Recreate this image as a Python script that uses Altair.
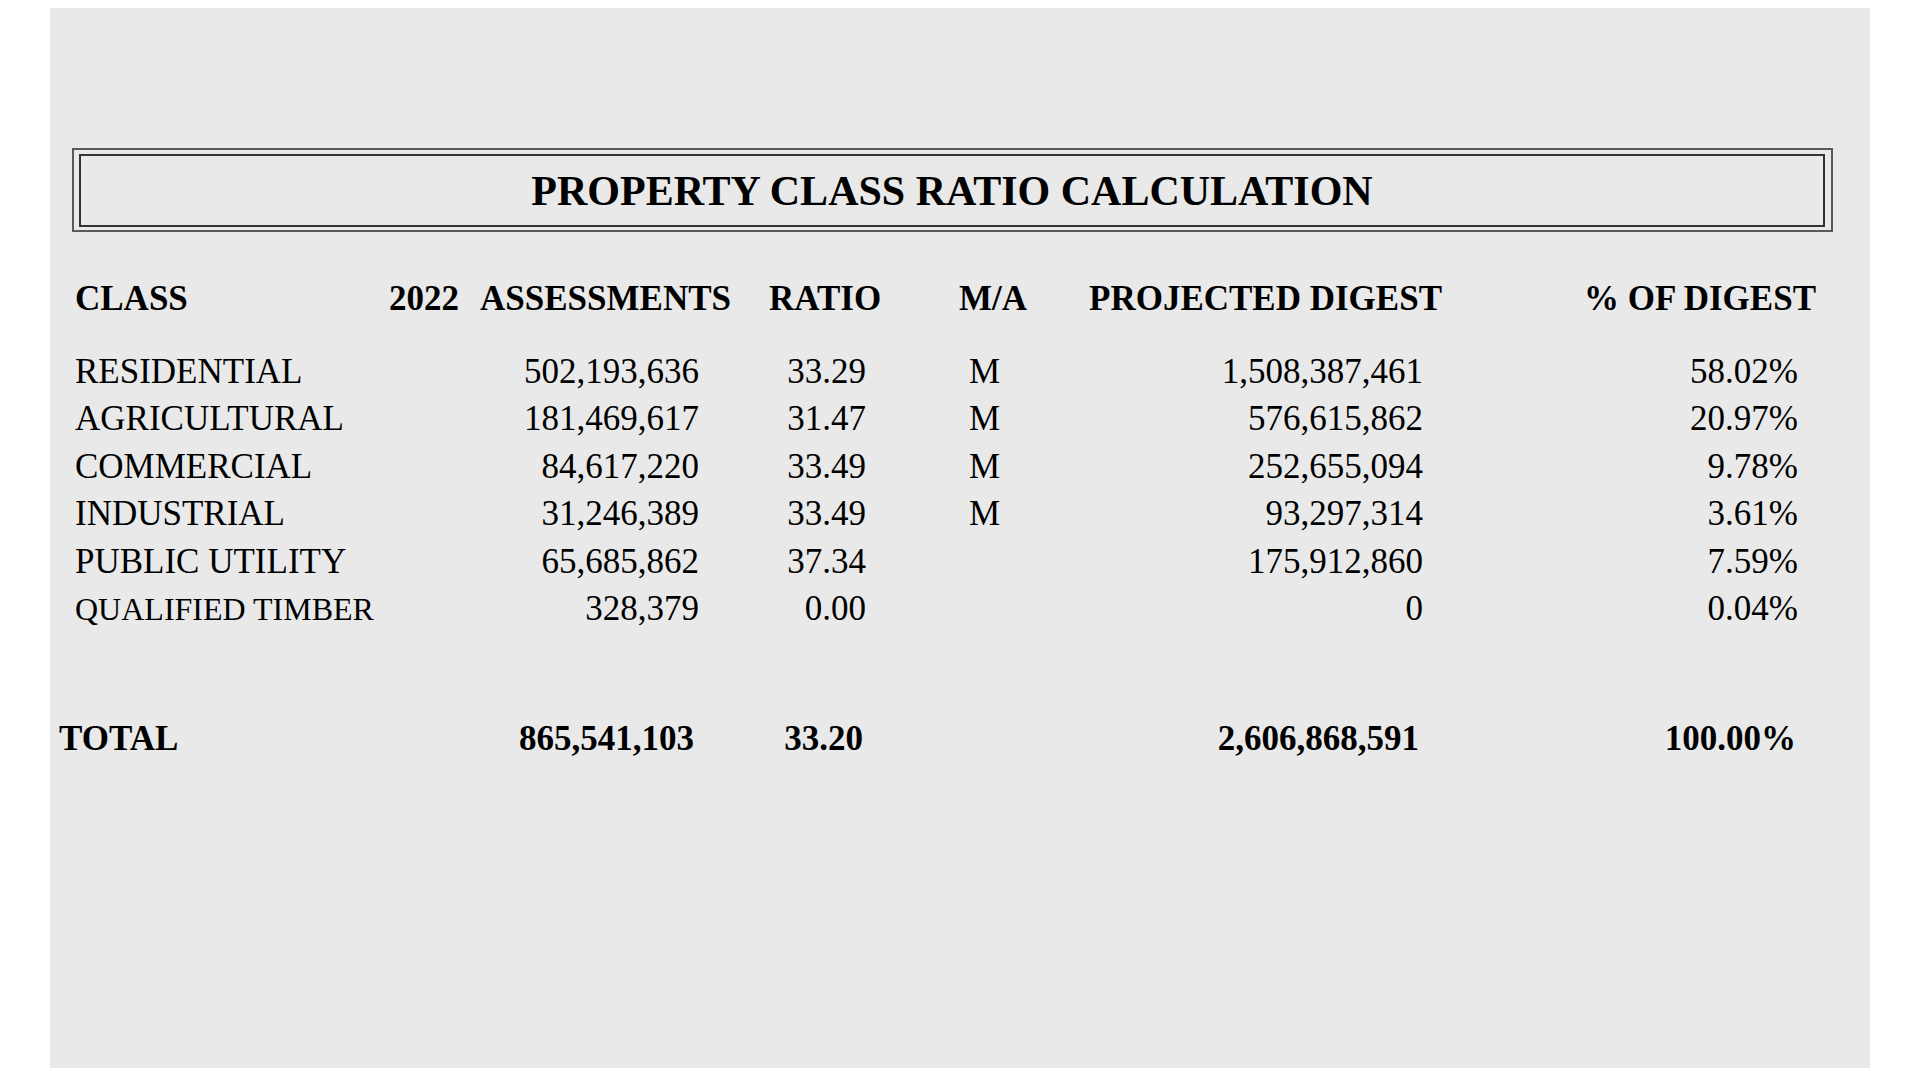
import altair as alt
import pandas as pd

# ---- data ----
classes = ["RESIDENTIAL", "AGRICULTURAL", "COMMERCIAL", "INDUSTRIAL",
           "PUBLIC UTILITY", "QUALIFIED TIMBER"]
assessments = [502193636, 181469617, 84617220, 31246389, 65685862, 328379]
ratios = [33.29, 31.47, 33.49, 33.49, 37.34, 0.00]
ma_flags = ["M", "M", "M", "M", "", ""]
projected = [1508387461, 576615862, 252655094, 93297314, 175912860, 0]
pct_of_digest = [0.5802, 0.2097, 0.0978, 0.0361, 0.0759, 0.0004]

total_label = "TOTAL"
total_assessments = 865541103
total_ratio = 33.20
total_projected = 2606868591
total_pct = 1.0

title_text = "PROPERTY CLASS RATIO CALCULATION"
headers = ["CLASS", "2022", "ASSESSMENTS", "RATIO", "M/A",
           "PROJECTED DIGEST", "% OF DIGEST"]

df = pd.DataFrame({
    "cls": classes, "assess": assessments, "ratio": ratios,
    "ma": ma_flags, "proj": projected, "pct": pct_of_digest,
})
total_df = pd.DataFrame([{
    "cls": total_label, "assess": total_assessments, "ratio": total_ratio,
    "proj": total_projected, "pct": total_pct,
}])

# ---- layout / style ----
W, H = 1904, 1060
FONT = "Liberation Serif"
INK = "#000000"
yscale = alt.Scale(type="point", domain=classes, range=[375, 612], padding=0)

def one():
    return alt.Chart(alt.Data(values=[{}]))

layers = []
# page panel
layers.append(one().mark_rect(fill="#e9e9e9").encode(
    x=alt.value(42), x2=alt.value(1862), y=alt.value(0), y2=alt.value(H)))
# double box around the title
layers.append(one().mark_rect(fill="transparent", stroke="#5a5a5a", strokeWidth=2).encode(
    x=alt.value(65), x2=alt.value(1824), y=alt.value(141), y2=alt.value(223)))
layers.append(one().mark_rect(fill="transparent", stroke="#333333", strokeWidth=2).encode(
    x=alt.value(72), x2=alt.value(1816), y=alt.value(147), y2=alt.value(218)))

# title
layers.append(alt.Chart(pd.DataFrame({"t": [title_text]})).mark_text(
    font=FONT, fontSize=42, fontWeight="bold", color=INK, align="center",
    baseline="alphabetic").encode(
    text="t:N", x=alt.value(944), y=alt.value(197)))

# headers
header_pos = {
    "CLASS": (67, "left"), "2022": (381, "left"), "ASSESSMENTS": (723, "right"),
    "RATIO": (761, "left"), "M/A": (951, "left"),
    "PROJECTED DIGEST": (1081, "left"), "% OF DIGEST": (1808, "right"),
}
for h in headers:
    px, al = header_pos[h]
    layers.append(alt.Chart(pd.DataFrame({"h": [h]})).mark_text(
        font=FONT, fontSize=35, fontWeight="bold", color=INK, align=al,
        baseline="alphabetic").encode(
        text="h:N", x=alt.value(px), y=alt.value(302)))

base = alt.Chart(df)
ycode = alt.Y("cls:N", scale=yscale, axis=None)

def body(field, fmt, px, align, size=35):
    txt = alt.Text(field, format=fmt) if fmt else alt.Text(field)
    return base.mark_text(font=FONT, fontSize=size, color=INK, align=align,
                          baseline="alphabetic").encode(
        text=txt, x=alt.value(px), y=ycode)

layers.append(base.mark_text(font=FONT, color=INK, align="left",
                             baseline="alphabetic").encode(
    text="cls:N", x=alt.value(67), y=ycode,
    size=alt.condition(alt.datum.cls == "QUALIFIED TIMBER", alt.value(32), alt.value(35))))
layers.append(body("assess:Q", ",d", 691, "right"))
layers.append(body("ratio:Q", ".2f", 858, "right"))
layers.append(body("ma:N", None, 961, "left"))
layers.append(body("proj:Q", ",d", 1415, "right"))
layers.append(body("pct:Q", ".2%", 1790, "right"))

# total row
tb = alt.Chart(total_df)
def tot(field, fmt, px, align):
    txt = alt.Text(field, format=fmt) if fmt else alt.Text(field)
    return tb.mark_text(font=FONT, fontSize=35, fontWeight="bold", color=INK,
                        align=align, baseline="alphabetic").encode(
        text=txt, x=alt.value(px), y=alt.value(742))

layers.append(tot("cls:N", None, 51, "left"))
layers.append(tot("assess:Q", ",d", 686, "right"))
layers.append(tot("ratio:Q", ".2f", 855, "right"))
layers.append(tot("proj:Q", ",d", 1411, "right"))
layers.append(tot("pct:Q", ".2%", 1788, "right"))

chart = alt.layer(*layers).properties(
    width=W, height=H, padding=0, autosize="none", background="white"
).configure_view(strokeWidth=0)

chart.save("out.html", embed_options={"renderer": "svg", "actions": False})
